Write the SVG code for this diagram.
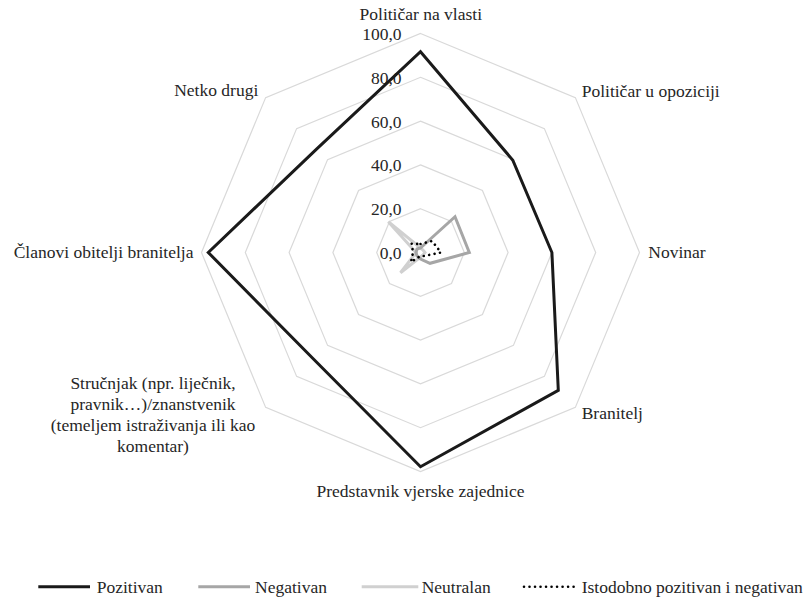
<svg xmlns="http://www.w3.org/2000/svg" width="812" height="601" viewBox="0 0 812 601">
<style>
text{font-family:"Liberation Serif","Times New Roman",serif;font-size:17.5px;fill:#262626}
.ring{fill:none;stroke:#d9d9d9;stroke-width:1.2}
.pos{fill:none;stroke:#1a1a1a;stroke-width:3;stroke-linejoin:miter}
.neg{fill:none;stroke:#a6a6a6;stroke-width:3}
.neu{fill:none;stroke:#d0d0d0;stroke-width:3}
.both{fill:none;stroke:#000;stroke-width:2.6;stroke-linecap:round;stroke-dasharray:0.01 5.5}
.val{text-anchor:end}
</style>
<rect width="812" height="601" fill="#fff"/>
<g id="grid">
<polygon class="ring" points="420.5,208.7 451.47,221.53 464.3,252.5 451.47,283.47 420.5,296.3 389.53,283.47 376.7,252.5 389.53,221.53"/>
<polygon class="ring" points="420.5,164.9 482.44,190.56 508.1,252.5 482.44,314.44 420.5,340.1 358.56,314.44 332.9,252.5 358.56,190.56"/>
<polygon class="ring" points="420.5,121.1 513.41,159.59 551.9,252.5 513.41,345.41 420.5,383.9 327.59,345.41 289.1,252.5 327.59,159.59"/>
<polygon class="ring" points="420.5,77.3 544.38,128.62 595.7,252.5 544.38,376.38 420.5,427.7 296.62,376.38 245.3,252.5 296.62,128.62"/>
<polygon class="ring" points="420.5,33.5 575.36,97.64 639.5,252.5 575.36,407.36 420.5,471.5 265.64,407.36 201.5,252.5 265.64,97.64"/>
</g>
<g id="axis-values">
<text class="val" x="401.5" y="40">100,0</text>
<text class="val" x="401.5" y="83.8">80,0</text>
<text class="val" x="401.5" y="127.6">60,0</text>
<text class="val" x="401.5" y="171.4">40,0</text>
<text class="val" x="401.5" y="215.2">20,0</text>
<text class="val" x="401.5" y="259">0,0</text>
</g>
<g id="series">
<polygon id="neutralan" class="neu" points="420.5,248 423,250 425,252.5 423,255 420.5,257 400.5,272.7 416,252.5 388.3,221.7"/>
<polygon id="negativan" class="neg" points="420.5,248 455,216.7 469.3,252.5 430,263.3 420.5,259 417,256 416,252.5 417,249"/>
<polygon id="istodobno" class="both" points="420.5,244 432,241 441,252.5 424,256 420.5,256 411,262 413,252.5 411.7,243.7"/>
<polygon id="pozitivan" class="pos" points="420.5,51.7 512.8,160.2 551.9,252.5 558.3,390.3 420.5,466.7 313.7,359.3 208.3,252.5 316.8,148.8"/>
</g>
<g id="labels">
<text x="420.8" y="20" text-anchor="middle">Političar na vlasti</text>
<text x="581.7" y="96.7">Političar u opoziciji</text>
<text x="648.3" y="257.5">Novinar</text>
<text x="581.7" y="419.3">Branitelj</text>
<text x="420.5" y="497" text-anchor="middle">Predstavnik vjerske zajednice</text>
<text text-anchor="middle"><tspan x="153" y="388.5">Stručnjak (npr. liječnik,</tspan><tspan x="153" y="409.5">pravnik…)/znanstvenik</tspan><tspan x="153" y="430.5">(temeljem istraživanja ili kao</tspan><tspan x="153" y="451.5">komentar)</tspan></text>
<text x="193.5" y="257.5" text-anchor="end">Članovi obitelji branitelja</text>
<text x="258.3" y="96" text-anchor="end">Netko drugi</text>
</g>
<g id="legend">
<line class="pos" x1="38.3" y1="586.7" x2="90" y2="586.7"/>
<text x="96.7" y="593">Pozitivan</text>
<line class="neg" x1="198.3" y1="586.7" x2="250" y2="586.7"/>
<text x="255" y="593">Negativan</text>
<line class="neu" x1="361.7" y1="586.7" x2="418.3" y2="586.7"/>
<text x="421.7" y="593">Neutralan</text>
<line class="both" x1="524" y1="586.7" x2="578" y2="586.7"/>
<text x="581.7" y="593">Istodobno pozitivan i negativan</text>
</g>
</svg>
